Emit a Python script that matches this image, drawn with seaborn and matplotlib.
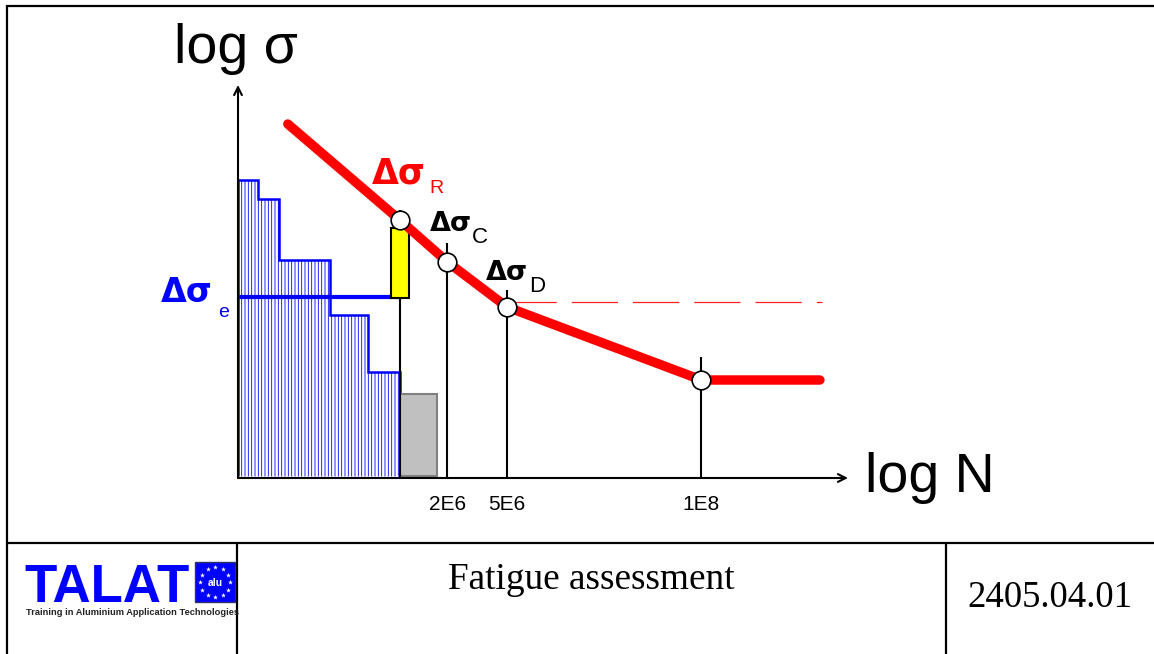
import numpy as np
import matplotlib.pyplot as plt
import seaborn as sns

# ---------------------------------------------------------------
# DATA  (x = number of cycles N, log axis; y = schematic log sigma)
# ---------------------------------------------------------------
curve_N     = [1.71e5, 9.6e5, 2.0e6, 5.0e6, 1.0e8, 6.2e8]
curve_sigma = [35.4, 25.8, 21.6, 17.1, 9.8, 9.8]

point_N     = [9.6e5, 2.0e6, 5.0e6, 1.0e8]
point_sigma = [25.8, 21.6, 17.1, 9.8]
stem_top    = [26.8, 23.5, 18.8, 12.1]

spec_edges  = [7.94e4, 1.08e5, 1.49e5, 3.27e5, 5.87e5, 9.6e5]
spec_height = [29.8, 27.9, 21.8, 16.3, 10.6]
spec_base   = 0.2

sigma_e   = 18.1
sigma_e_N = [7.94e4, 9.9e5]

cutoff_sigma = 17.6
cutoff_N     = [5.24e6, 6.4e8]

yellow_N     = [8.37e5, 1.10e6]
yellow_sigma = [18.0, 25.0]
grey_N       = [9.6e5, 1.70e6]
grey_sigma   = [0.2, 8.4]

tick_N      = [2e6, 5e6, 1e8]
tick_labels = ['2E6', '5E6', '1E8']

x_range = [7.94e4, 9.55e8]
y_range = [0, 39.3]

# ---------------------------------------------------------------
sns.set_theme(style='white')
plt.rcParams['font.family'] = ['Liberation Sans', 'DejaVu Sans']
plt.rcParams['hatch.linewidth'] = 0.6

W, H = 1154, 654
fig = plt.figure(figsize=(W / 100, H / 100), dpi=100)

def fig_rect(x0, y0, x1, y1):
	return [x0 / W, 1 - y1 / H, (x1 - x0) / W, (y1 - y0) / H]

# frame / footer layer in pixel coordinates
frame = fig.add_axes([0, 0, 1, 1])
frame.set_xlim(0, W)
frame.set_ylim(H, 0)
frame.axis('off')

# diagram
ax = fig.add_axes(fig_rect(238, 85, 848, 478))
ax.set_facecolor('none')
ax.set_xscale('log')
ax.set_xlim(*x_range)
ax.set_ylim(*y_range)
for s in ax.spines.values():
	s.set_visible(False)

# stress spectrum
ax.stairs(spec_height, spec_edges, baseline=spec_base, fill=True,
	facecolor='white', edgecolor='#0000ff', hatch='|||||',
	linewidth=1.8, zorder=2)

# grey and yellow boxes
ax.bar(grey_N[0], grey_sigma[1] - grey_sigma[0], width=grey_N[1] - grey_N[0],
	bottom=grey_sigma[0], align='edge', color='#c0c0c0',
	edgecolor='#808080', linewidth=1.5, zorder=2)

ax.vlines(point_N, 0, stem_top, color='black', lw=1.5, zorder=3)

ax.bar(yellow_N[0], yellow_sigma[1] - yellow_sigma[0],
	width=yellow_N[1] - yellow_N[0], bottom=yellow_sigma[0], align='edge',
	color='#ffff00', edgecolor='black', linewidth=1.5, zorder=4)

# equivalent stress
ax.plot(sigma_e_N, [sigma_e] * 2, color='#0000ff', lw=3,
	solid_capstyle='butt', zorder=3)

# cut-off
ax.plot(cutoff_N, [cutoff_sigma] * 2, color='#ff2020', lw=0.9,
	dashes=(37, 12), zorder=3)

# S-N curve
sns.lineplot(x=curve_N, y=curve_sigma, ax=ax, color='#ff0000', lw=6.8,
	sort=False, estimator=None, solid_capstyle='round', zorder=5)
sns.scatterplot(x=point_N, y=point_sigma, ax=ax, s=180, color='white',
	edgecolor='black', linewidth=1.2, zorder=6)

# axes arrows
arrow = dict(arrowstyle='->', lw=1.5, color='black', shrinkA=0, shrinkB=0,
	mutation_scale=14)
ax.annotate('', xy=(0, 1), xytext=(0, 0), xycoords='axes fraction', arrowprops=arrow)
ax.annotate('', xy=(1, 0), xytext=(0, 0), xycoords='axes fraction', arrowprops=arrow)

ax.set_xticks(tick_N, tick_labels)
ax.minorticks_off()
ax.set_yticks([])
ax.tick_params(axis='x', length=0, pad=12, labelsize=15, colors='black')
ax.set_xlabel('')
ax.set_ylabel('')

# labels
frame.text(174, 63, 'log σ', fontsize=40, va='baseline', color='black')
frame.text(865, 492, 'log N', fontsize=40, va='baseline', color='black')

sym = dict(family='DejaVu Sans', weight='bold', va='baseline')
frame.text(372, 183, 'Δσ', fontsize=25, color='#ff0000', **sym)
frame.text(429, 193, 'R', fontsize=14, color='#ff0000', va='baseline')
frame.text(430, 231, 'Δσ', fontsize=19.5, color='black', **sym)
frame.text(472, 243, 'C', fontsize=16, color='black', va='baseline')
frame.text(486, 280, 'Δσ', fontsize=19.5, color='black', **sym)
frame.text(529, 292, 'D', fontsize=16, color='black', va='baseline')
frame.text(161, 302, 'Δσ', fontsize=24, color='#0000ff', **sym)
frame.text(218, 317, 'e', fontsize=14, color='#0000ff', va='baseline')

# frame lines
lk = dict(color='black', lw=1.6, solid_capstyle='butt')
frame.plot([6, W], [5.5, 5.5], **lk)
frame.plot([6.5, 6.5], [5, H], **lk)
frame.plot([6, W], [543, 543], **lk)
frame.plot([237, 237], [543, H], **lk)
frame.plot([946, 946], [543, H], **lk)

# footer
frame.text(448, 589, 'Fatigue assessment', fontsize=26.8, va='baseline',
	family='Liberation Serif', color='black')
frame.text(967, 607, '2405.04.01', fontsize=26.5, va='baseline',
	family='Liberation Serif', color='black')

frame.text(24, 602, 'TALAT', fontsize=38, weight='bold', color='#0000ff', va='baseline')
frame.add_patch(plt.Rectangle((195, 562), 40, 40, facecolor='#0000ff',
	edgecolor='#333366', lw=1))
ang = np.linspace(0, 2 * np.pi, 12, endpoint=False)
frame.scatter(215 + 15 * np.cos(ang), 582 + 15 * np.sin(ang), marker='*',
	s=14, color='white', linewidths=0)
frame.text(215, 583, 'alu', fontsize=7.5, weight='bold', color='white',
	ha='center', va='center')
frame.text(26, 615, 'Training in Aluminium Application Technologies',
	fontsize=6.7, weight='bold', color='#222222', va='baseline')

fig.savefig('out.png', dpi=100)
